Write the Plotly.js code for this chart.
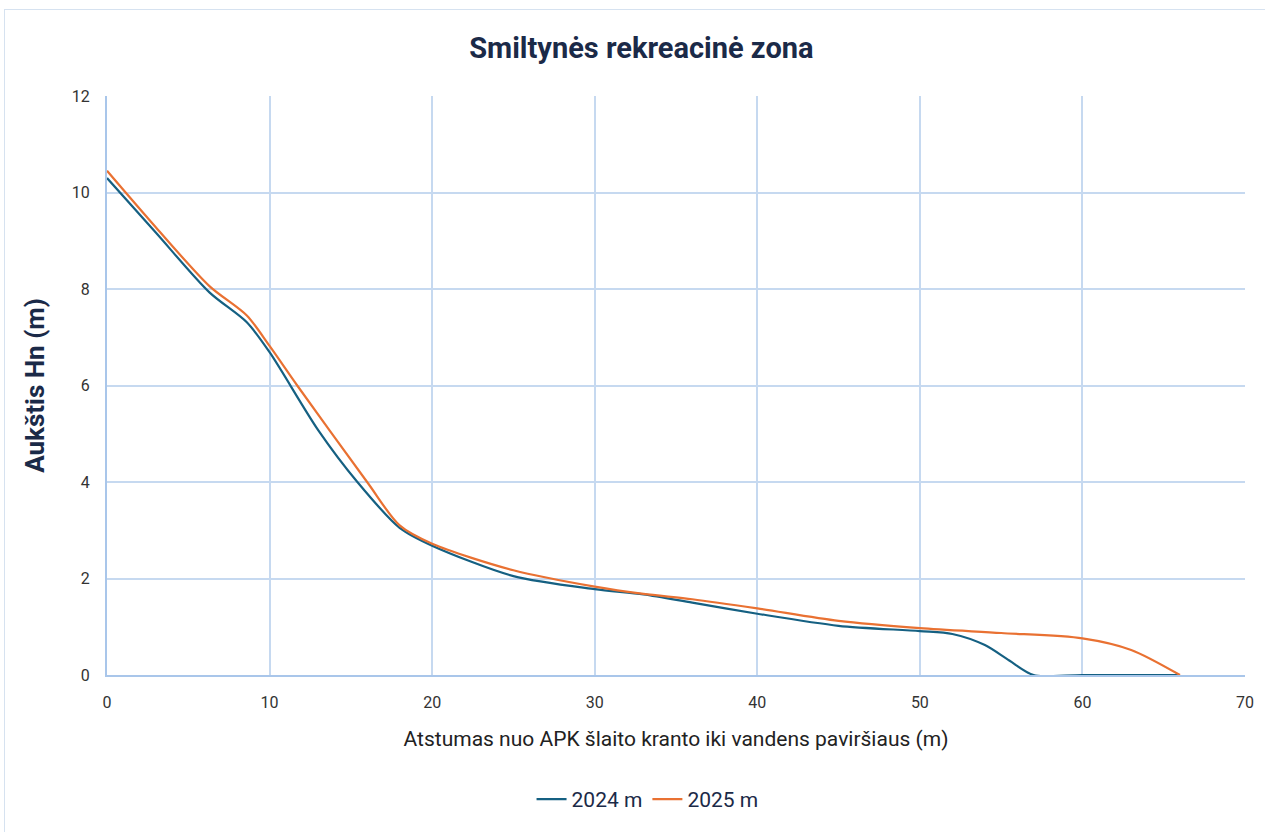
<!DOCTYPE html>
<html>
<head>
<meta charset="utf-8">
<script src="https://cdn.plot.ly/plotly-3.0.1.min.js"></script>
<style>
  html, body { margin: 0; padding: 0; background: #ffffff; }
  #chart { width: 1265px; height: 832px; }
  #frame { position: absolute; left: 4px; top: 9px; width: 1265px; height: 830px; border: 1px solid #d6e2f0; pointer-events: none; }
</style>
</head>
<body>
<div id="chart"></div>
<div id="frame"></div>
<script>
// Series 2024
const x2024 = [0, 3, 6.3, 8.6, 10, 13, 15.4, 18, 20, 25, 30, 33, 36, 40, 45, 50, 52, 54, 55.5, 57, 60, 66];
const y2024 = [10.3, 9.17, 7.93, 7.31, 6.69, 5.07, 4.0, 3.05, 2.68, 2.05, 1.78, 1.67, 1.5, 1.27, 1.02, 0.91, 0.85, 0.62, 0.3, 0, 0, 0];
// Series 2025
const x2025 = [0, 3, 6.3, 8.6, 10, 11.7, 16, 18, 20, 25, 30, 33, 36, 40, 45, 50, 55, 60, 63, 66];
const y2025 = [10.45, 9.28, 8.06, 7.45, 6.82, 6.0, 4.0, 3.1, 2.72, 2.17, 1.83, 1.68, 1.57, 1.38, 1.12, 0.97, 0.87, 0.76, 0.52, 0];

const seriesNames = ["2024 m", "2025 m"];
const titleText = "Smiltynės rekreacinė zona";
const xTitle = "Atstumas nuo APK šlaito kranto iki vandens paviršiaus (m)";
const yTitle = "Aukštis Hn (m)";
const xTicks = [0, 10, 20, 30, 40, 50, 60, 70];
const yTicks = [0, 2, 4, 6, 8, 10, 12];

const gridColor = "#c6d9f0";
const axisColor = "#a9c6ea";
const textColor = "#333333";

const traces = [
  { x: x2024, y: y2024, name: seriesNames[0], type: "scatter", mode: "lines",
    line: { color: "#156082", width: 2.2, shape: "spline", smoothing: 0.8 }, cliponaxis: true },
  { x: x2025, y: y2025, name: seriesNames[1], type: "scatter", mode: "lines",
    line: { color: "#E97132", width: 2.2, shape: "spline", smoothing: 0.8 }, cliponaxis: true }
];

const layout = {
  width: 1265, height: 832,
  margin: { l: 107, r: 20, t: 96, b: 155 },
  paper_bgcolor: "#ffffff", plot_bgcolor: "#ffffff",
  font: { family: "Roboto, 'Open Sans', sans-serif", color: textColor, size: 16 },
  title: { text: titleText, x: 0.507, xref: "container", xanchor: "center", y: 0.943, yanchor: "middle",
    font: { family: "Roboto, sans-serif", size: 29, color: "#1b2a48", weight: "bold" } },
  xaxis: {
    range: [0, 70], tickvals: xTicks, ticktext: xTicks.map(String),
    showgrid: true, gridcolor: gridColor, gridwidth: 2,
    showline: true, linecolor: axisColor, linewidth: 2, mirror: false,
    zeroline: false, ticks: "", ticklen: 0, ticklabelstandoff: 12,
    tickfont: { size: 16, color: textColor },
    title: { text: xTitle, standoff: 20, font: { size: 21, color: "#222222" } }
  },
  yaxis: {
    range: [0, 12], tickvals: yTicks, ticktext: yTicks.map(String),
    showgrid: true, gridcolor: gridColor, gridwidth: 2,
    showline: true, linecolor: axisColor, linewidth: 2,
    zeroline: false, ticks: "", ticklen: 0, ticklabelstandoff: 12,
    tickfont: { size: 16, color: textColor },
    title: { text: yTitle, standoff: 20, font: { size: 26, color: "#1b2a48", weight: "bold" } }
  },
  legend: { orientation: "h", x: 0.475, xanchor: "center", y: -0.215, yanchor: "middle",
    font: { size: 21, color: "#1b2a48" }, itemwidth: 30, tracegroupgap: 10 },
  showlegend: true
};

Plotly.newPlot("chart", traces, layout, { displayModeBar: false, staticPlot: true });
</script>
</body>
</html>
